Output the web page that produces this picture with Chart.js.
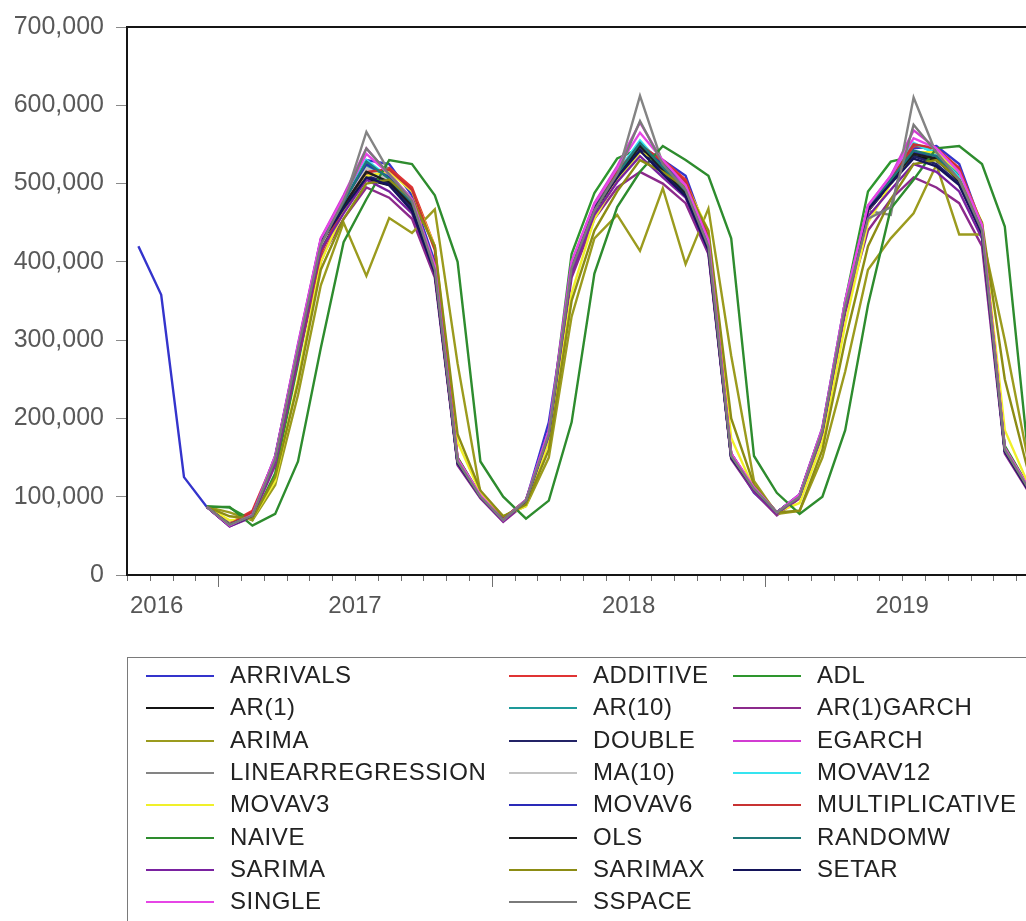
<!DOCTYPE html>
<html>
<head>
<meta charset="utf-8">
<title>Arrivals forecasts</title>
<script src="https://cdn.jsdelivr.net/npm/chart.js@4.4.1/dist/chart.umd.min.js"></script>
<style>
  html, body { margin: 0; padding: 0; background: #fff; overflow: hidden; }
  #wrap { position: absolute; left: 0; top: 0; width: 1060px; height: 921px; }
</style>
</head>
<body>
<div id="wrap"><canvas id="chart" width="1060" height="921"></canvas></div>
<script>
// === DATA ===

const months = ['2016M09', '2016M10', '2016M11', '2016M12',
  '2017M01', '2017M02', '2017M03', '2017M04', '2017M05', '2017M06', '2017M07', '2017M08', '2017M09', '2017M10', '2017M11', '2017M12',
  '2018M01', '2018M02', '2018M03', '2018M04', '2018M05', '2018M06', '2018M07', '2018M08', '2018M09', '2018M10', '2018M11', '2018M12',
  '2019M01', '2019M02', '2019M03', '2019M04', '2019M05', '2019M06', '2019M07', '2019M08', '2019M09', '2019M10', '2019M11', '2019M12'];

const yearLabels = ['2016', '2017', '2018', '2019'];

const arrivals = [420000, 358000, 125000, 87000, 63000, 78000, 145000, 290000, 425000, 480000, 530000, 525000, 485000, 400000, 145000, 100000, 72000, 95000, 195000, 385000, 470000, 515000, 548000, 530000, 510000, 430000, 152000, 105000, 78000, 100000, 185000, 345000, 468000, 505000, 545000, 548000, 525000, 445000, 160000, 115000];
const additive = [null, null, null, 87000, 66000, 82000, 150000, 280000, 400000, 470000, 512000, 520000, 495000, 420000, 150000, 100000, 72000, 96000, 178000, 390000, 465000, 515000, 548000, 530000, 505000, 430000, 155000, 110000, 80000, 100000, 182000, 340000, 465000, 505000, 548000, 545000, 520000, 445000, 162000, 112000];
const adl = [null, null, null, 88000, 86000, 70000, 130000, 270000, 415000, 480000, 520000, 512000, 480000, 395000, 150000, 102000, 74000, 92000, 180000, 410000, 488000, 532000, 545000, 525000, 495000, 425000, 155000, 108000, 80000, 98000, 180000, 350000, 490000, 528000, 535000, 530000, 505000, 440000, 165000, 115000];
const ar1 = [null, null, null, 87000, 64000, 75000, 148000, 288000, 420000, 470000, 505000, 498000, 470000, 388000, 142000, 100000, 70000, 95000, 182000, 392000, 465000, 505000, 545000, 520000, 488000, 418000, 150000, 108000, 78000, 100000, 185000, 345000, 465000, 500000, 535000, 530000, 505000, 438000, 158000, 110000];
const ar10 = [null, null, null, 87000, 65000, 77000, 152000, 292000, 428000, 478000, 522000, 508000, 478000, 392000, 146000, 101000, 71000, 96000, 182000, 398000, 470000, 515000, 550000, 525000, 495000, 425000, 154000, 110000, 80000, 103000, 188000, 350000, 470000, 508000, 550000, 540000, 510000, 445000, 162000, 113000];
const ar1Garch = [null, null, null, 87000, 62000, 74000, 140000, 275000, 405000, 455000, 495000, 482000, 455000, 380000, 140000, 98000, 68000, 92000, 175000, 380000, 455000, 495000, 515000, 500000, 475000, 410000, 148000, 106000, 76000, 98000, 180000, 335000, 440000, 480000, 508000, 495000, 475000, 420000, 155000, 108000];
const arima = [null, null, null, 87000, 80000, 70000, 115000, 230000, 370000, 450000, 382000, 456000, 437000, 467000, 270000, 105000, 75000, 88000, 150000, 330000, 430000, 460000, 414000, 494000, 397000, 468000, 280000, 120000, 78000, 82000, 150000, 260000, 390000, 430000, 462000, 524000, 435000, 435000, 300000, 150000];
const doubleExp = [null, null, null, 87000, 63000, 76000, 150000, 290000, 425000, 470000, 510000, 500000, 468000, 385000, 143000, 100000, 70000, 95000, 182000, 395000, 468000, 510000, 545000, 515000, 485000, 415000, 150000, 110000, 80000, 102000, 185000, 345000, 465000, 500000, 535000, 525000, 500000, 438000, 158000, 110000];
const egarch = [null, null, null, 87000, 63000, 76000, 152000, 295000, 430000, 485000, 545000, 512000, 478000, 392000, 148000, 102000, 70000, 96000, 185000, 400000, 475000, 522000, 578000, 528000, 495000, 425000, 155000, 112000, 80000, 103000, 188000, 350000, 472000, 510000, 568000, 545000, 515000, 445000, 162000, 114000];
const linearRegression = [null, null, null, 87000, 66000, 78000, 145000, 285000, 420000, 475000, 566000, 515000, 475000, 388000, 145000, 100000, 72000, 95000, 180000, 390000, 465000, 510000, 612000, 525000, 490000, 418000, 152000, 110000, 80000, 100000, 182000, 342000, 465000, 460000, 610000, 538000, 505000, 440000, 160000, 112000];
const ma10 = [null, null, null, 87000, 64000, 77000, 148000, 288000, 422000, 472000, 520000, 505000, 475000, 390000, 145000, 100000, 71000, 95000, 182000, 392000, 466000, 510000, 548000, 520000, 490000, 420000, 152000, 110000, 80000, 101000, 184000, 344000, 466000, 503000, 540000, 533000, 505000, 440000, 160000, 112000];
const movav12 = [null, null, null, 87000, 65000, 77000, 150000, 292000, 426000, 478000, 530000, 508000, 478000, 392000, 146000, 100000, 70000, 95000, 181000, 396000, 470000, 515000, 555000, 522000, 492000, 422000, 153000, 110000, 80000, 102000, 186000, 347000, 470000, 508000, 552000, 538000, 508000, 442000, 161000, 112000];
const movav3 = [null, null, null, 87000, 70000, 72000, 120000, 250000, 400000, 465000, 510000, 515000, 490000, 420000, 170000, 105000, 75000, 88000, 170000, 360000, 455000, 505000, 540000, 528000, 500000, 440000, 175000, 110000, 80000, 92000, 170000, 320000, 450000, 500000, 540000, 540000, 515000, 450000, 185000, 118000];
const movav6 = [null, null, null, 87000, 63000, 76000, 150000, 292000, 428000, 478000, 525000, 508000, 472000, 390000, 145000, 100000, 70000, 95000, 182000, 398000, 470000, 512000, 548000, 525000, 500000, 420000, 152000, 110000, 80000, 102000, 186000, 346000, 470000, 505000, 540000, 535000, 505000, 440000, 160000, 112000];
const multiplicative = [null, null, null, 87000, 65000, 80000, 148000, 282000, 410000, 472000, 515000, 518000, 492000, 415000, 148000, 100000, 72000, 95000, 180000, 392000, 468000, 515000, 550000, 528000, 502000, 432000, 155000, 110000, 80000, 101000, 183000, 342000, 466000, 505000, 550000, 545000, 518000, 448000, 162000, 112000];
const naive = [null, null, null, 87000, 87000, 63000, 78000, 145000, 290000, 425000, 480000, 530000, 525000, 485000, 400000, 145000, 100000, 72000, 95000, 195000, 385000, 470000, 515000, 548000, 530000, 510000, 430000, 152000, 105000, 78000, 100000, 185000, 345000, 468000, 505000, 545000, 548000, 525000, 445000, 160000];
const ols = [null, null, null, 87000, 64000, 76000, 150000, 290000, 425000, 472000, 515000, 502000, 472000, 388000, 144000, 100000, 70000, 95000, 181000, 394000, 467000, 508000, 548000, 518000, 488000, 418000, 151000, 110000, 80000, 102000, 185000, 345000, 467000, 503000, 538000, 532000, 503000, 440000, 159000, 111000];
const randomW = [null, null, null, 87000, 64000, 76000, 150000, 290000, 425000, 476000, 528000, 506000, 476000, 391000, 145000, 100000, 70000, 95000, 180000, 395000, 468000, 512000, 552000, 521000, 491000, 421000, 152000, 110000, 80000, 102000, 185000, 345000, 468000, 505000, 542000, 535000, 505000, 440000, 160000, 112000];
const sarima = [null, null, null, 87000, 62000, 75000, 145000, 282000, 415000, 462000, 505000, 490000, 462000, 385000, 142000, 99000, 69000, 94000, 178000, 386000, 460000, 502000, 535000, 508000, 482000, 412000, 150000, 108000, 78000, 100000, 182000, 340000, 458000, 492000, 525000, 515000, 490000, 430000, 157000, 110000];
const sarimax = [null, null, null, 87000, 75000, 72000, 125000, 245000, 390000, 455000, 500000, 505000, 480000, 420000, 180000, 108000, 75000, 90000, 160000, 350000, 440000, 490000, 530000, 515000, 495000, 440000, 200000, 115000, 80000, 82000, 160000, 300000, 420000, 480000, 525000, 530000, 505000, 450000, 250000, 135000];
const setar = [null, null, null, 87000, 63000, 76000, 150000, 290000, 425000, 468000, 508000, 498000, 465000, 386000, 143000, 100000, 70000, 95000, 182000, 396000, 468000, 508000, 542000, 512000, 484000, 415000, 150000, 110000, 80000, 102000, 186000, 346000, 467000, 500000, 532000, 522000, 498000, 436000, 158000, 110000];
const single = [null, null, null, 87000, 63000, 77000, 152000, 294000, 430000, 482000, 538000, 512000, 480000, 395000, 148000, 102000, 70000, 96000, 184000, 400000, 474000, 520000, 565000, 530000, 498000, 428000, 155000, 112000, 80000, 103000, 188000, 350000, 472000, 510000, 558000, 545000, 515000, 447000, 162000, 114000];
const sspace = [null, null, null, 87000, 64000, 76000, 148000, 288000, 422000, 478000, 545000, 512000, 478000, 390000, 145000, 100000, 70000, 95000, 180000, 392000, 466000, 512000, 580000, 525000, 492000, 420000, 152000, 110000, 80000, 100000, 184000, 344000, 455000, 470000, 575000, 540000, 505000, 440000, 160000, 112000];

// legend order (3 columns, row by row)
const seriesNames = ['ARRIVALS', 'ADDITIVE', 'ADL', 'AR(1)', 'AR(10)', 'AR(1)GARCH', 'ARIMA', 'DOUBLE', 'EGARCH',
  'LINEARREGRESSION', 'MA(10)', 'MOVAV12', 'MOVAV3', 'MOVAV6', 'MULTIPLICATIVE', 'NAIVE', 'OLS', 'RANDOMW',
  'SARIMA', 'SARIMAX', 'SETAR', 'SINGLE', 'SSPACE'];
const seriesData = [arrivals, additive, adl, ar1, ar10, ar1Garch, arima, doubleExp, egarch,
  linearRegression, ma10, movav12, movav3, movav6, multiplicative, naive, ols, randomW,
  sarima, sarimax, setar, single, sspace];
const seriesColors = ['#3434cc', '#e03434', '#2e962e', '#141414', '#1e9a9a', '#8c2a8c', '#9b9b1e', '#232366', '#d23cd2',
  '#848484', '#c2c2c2', '#36e4f0', '#f0f02a', '#2a2ab8', '#c83232', '#2e8c2e', '#1e1e1e', '#1e7878',
  '#7a22a0', '#8c8c14', '#14145a', '#e646e6', '#7a7a7a'];

// === DRAWING HELPERS ===

const FONT = '"Liberation Sans", Arial, sans-serif';
const legendTextX = [230, 593, 817];

const decor = {
  id: 'decor',
  afterDraw(chart) {
    const { ctx, chartArea: area } = chart;
    const x = chart.scales.x;
    const half = (x.getPixelForValue(1) - x.getPixelForValue(0)) / 2;
    ctx.save();

    // month ticks, longer at each new year
    ctx.strokeStyle = '#707070';
    ctx.lineWidth = 1;
    for (let i = 0; i <= months.length; i++) {
      const px = Math.round(x.getPixelForValue(i) - half) + 0.5;
      const major = i < months.length && months[i].endsWith('M01');
      ctx.beginPath();
      ctx.moveTo(px, area.bottom);
      ctx.lineTo(px, area.bottom + (major ? 12 : 6));
      ctx.stroke();
    }

    // year labels
    ctx.font = '24px ' + FONT;
    ctx.fillStyle = '#555';
    ctx.textBaseline = 'middle';
    yearLabels.forEach(year => {
      const idx = months.map((m, i) => (m.startsWith(year) ? i : -1)).filter(i => i >= 0);
      if (!idx.length) return;
      if (idx.length < 12 && idx[0] === 0) {
        ctx.textAlign = 'left';
        ctx.fillText(year, area.left + 3, area.bottom + 31);
      } else {
        ctx.textAlign = 'center';
        const cx = (x.getPixelForValue(idx[0]) + x.getPixelForValue(idx[idx.length - 1])) / 2;
        ctx.fillText(year, cx, area.bottom + 31);
      }
    });

    // plot frame
    ctx.strokeStyle = '#151515';
    ctx.lineWidth = 2;
    ctx.strokeRect(area.left, area.top, area.right - area.left, area.bottom - area.top);

    // legend box
    ctx.strokeStyle = '#7a7a7a';
    ctx.lineWidth = 1;
    ctx.strokeRect(127.5, 657.5, 1000, 320);
    ctx.font = '24px ' + FONT;
    ctx.textAlign = 'left';
    if ('letterSpacing' in ctx) ctx.letterSpacing = '0.6px';
    chart.data.datasets.forEach((ds, k) => {
      const tx = legendTextX[k % 3];
      const ty = Math.round(676 + Math.floor(k / 3) * 32.3);
      ctx.strokeStyle = ds.borderColor;
      ctx.lineWidth = 2;
      ctx.beginPath();
      ctx.moveTo(tx - 84, ty);
      ctx.lineTo(tx - 16, ty);
      ctx.stroke();
      ctx.fillStyle = '#222';
      ctx.fillText(ds.label, tx, ty);
    });

    ctx.restore();
  }
};

// === CHART ===

const datasets = seriesNames.map((name, i) => ({
  label: name,
  data: seriesData[i],
  borderColor: seriesColors[i],
  backgroundColor: seriesColors[i],
  borderWidth: 2.4,
  pointRadius: 0,
  tension: 0,
  fill: false,
  spanGaps: false,
  // later series are painted on top
  order: seriesNames.length - i
}));

new Chart(document.getElementById('chart'), {
  type: 'line',
  data: { labels: months, datasets: datasets },
  options: {
    responsive: false,
    animation: false,
    events: [],
    layout: { padding: { left: 0, top: 25, right: 21, bottom: 346 } },
    plugins: {
      legend: { display: false },
      tooltip: { enabled: false }
    },
    scales: {
      x: {
        type: 'category',
        offset: true,
        display: false
      },
      y: {
        min: 0,
        max: 700000,
        ticks: {
          stepSize: 100000,
          color: '#595959',
          padding: 12,
          font: { family: FONT, size: 25 },
          callback: v => v.toLocaleString('en-US')
        },
        grid: { drawOnChartArea: false, tickLength: 11, color: '#8a8a8a' },
        border: { display: false },
        afterFit(scale) { scale.width = 127; }
      }
    }
  },
  plugins: [decor]
});
</script>
</body>
</html>
